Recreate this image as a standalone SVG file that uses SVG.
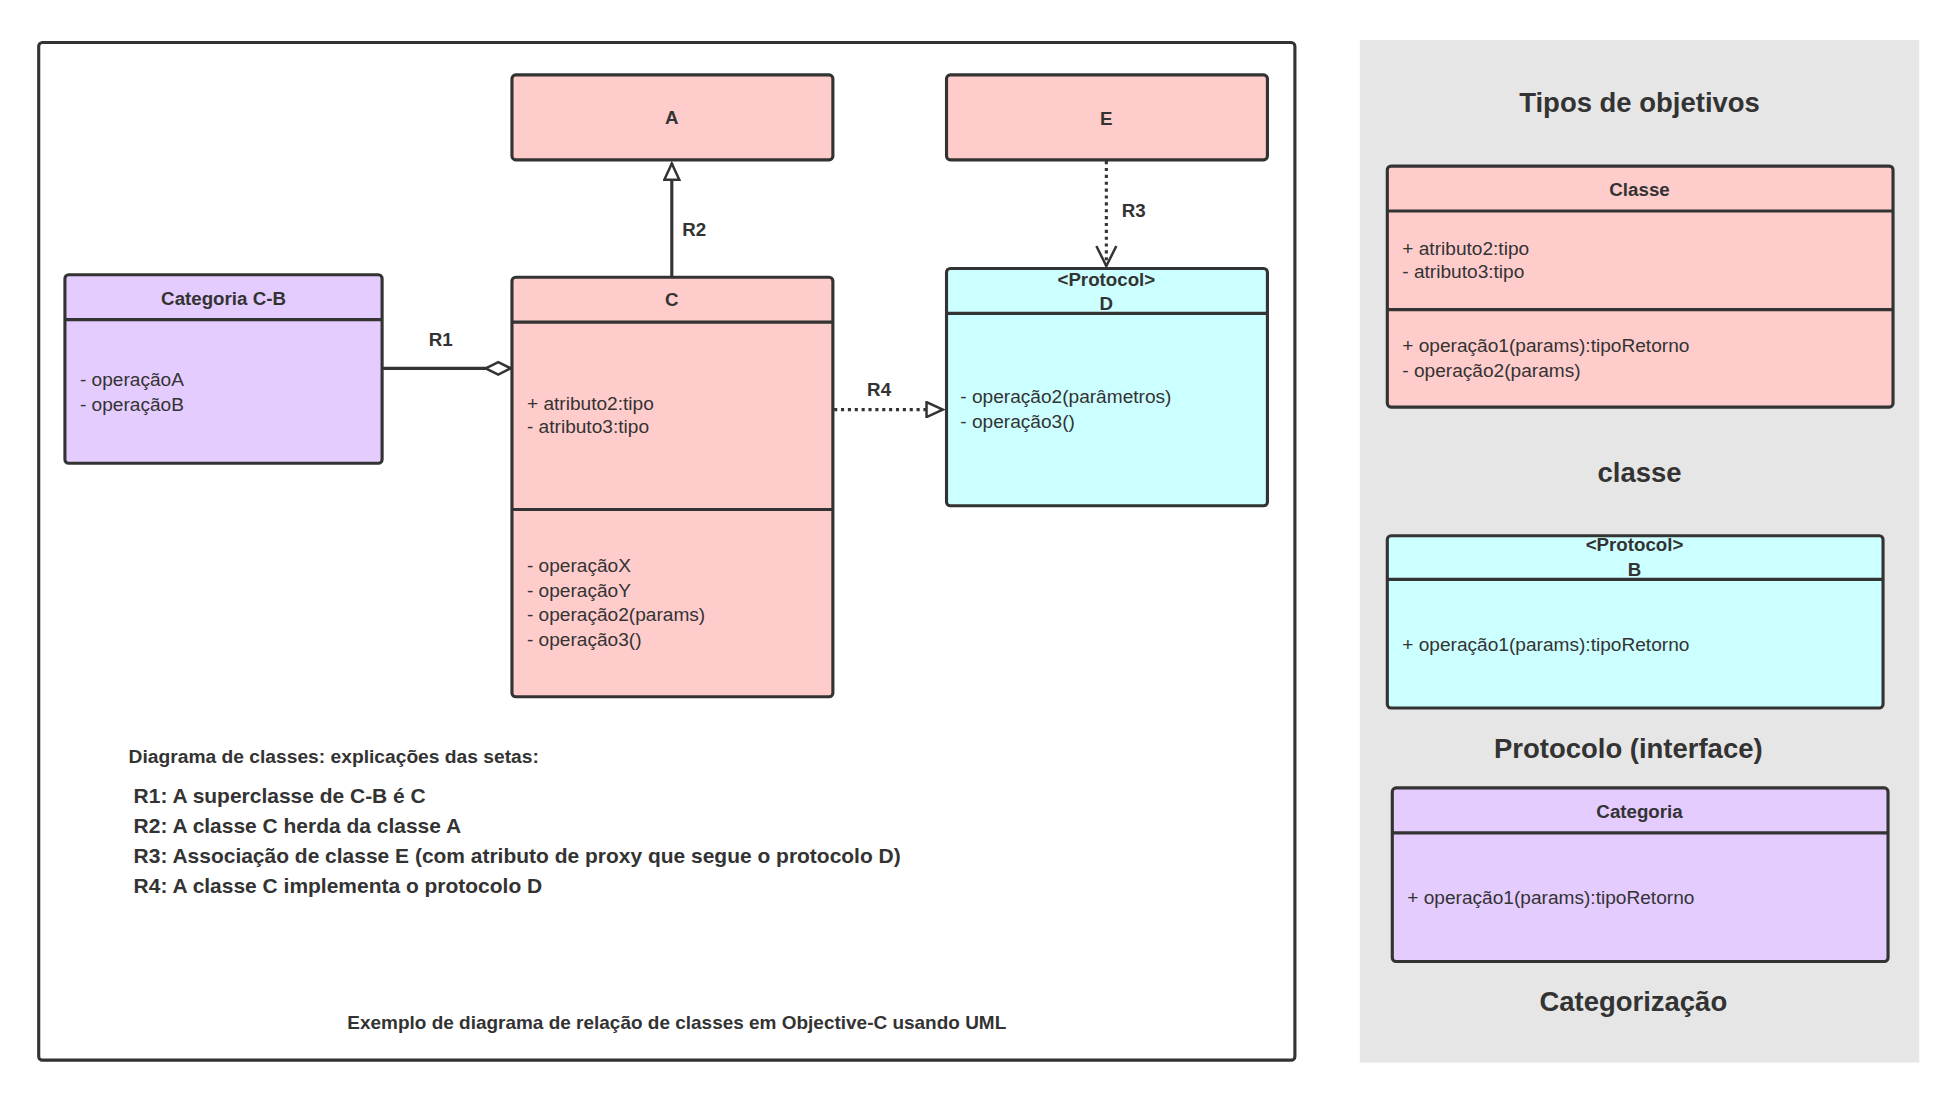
<svg xmlns="http://www.w3.org/2000/svg" width="1958" height="1110" viewBox="0 0 1958 1110">
<style>
text{font-family:"Liberation Sans",Arial,sans-serif;fill:#333}
.b{stroke:#333;stroke-width:2.5}
.pink{fill:#ffcccc}.lil{fill:#e5ccff}.cy{fill:#ccffff}
.t{font-weight:bold;font-size:15px;text-anchor:middle}
.m{font-size:15.3px}
.h{font-weight:bold;font-size:22px;text-anchor:middle}
.r{font-weight:bold;font-size:16.8px}
.ln{stroke:#333;stroke-width:2.5;fill:none}
.dot{stroke-dasharray:2.5 3}
</style>
<defs>
<marker id="tri" markerWidth="16" markerHeight="14" refX="14" refY="7" orient="auto" markerUnits="userSpaceOnUse"><path d="M1,1 L14,7 L1,13 Z" fill="#fff" stroke="#333" stroke-width="2"/></marker>
<marker id="dia" markerWidth="24" markerHeight="14" refX="22" refY="7" orient="auto" markerUnits="userSpaceOnUse"><path d="M2,7 L12,2 L22,7 L12,12 Z" fill="#fff" stroke="#333" stroke-width="2"/></marker>
<marker id="vee" markerWidth="24" markerHeight="20" refX="20" refY="10" orient="auto" markerUnits="userSpaceOnUse"><path d="M4,2 L20,10 L4,18" fill="none" stroke="#333" stroke-width="2"/></marker>
</defs>
<rect width="1958" height="1110" fill="#fff"/>
<g transform="scale(1.2487)">
<rect x="31" y="34" width="1006" height="815" rx="3" fill="#fff" class="b"/>
<rect x="1089" y="32" width="448" height="819" fill="#e6e6e6"/>
<g id="A"><rect x="410" y="60" width="257" height="68" rx="3" class="pink b"/><text x="538" y="99" class="t">A</text></g>
<g id="E"><rect x="758" y="60" width="257" height="68" rx="3" class="pink b"/><text x="886" y="100" class="t">E</text></g>
<g id="C"><rect x="410" y="222" width="257" height="336" rx="3" class="pink b"/>
<line x1="410" y1="258" x2="667" y2="258" class="b"/><line x1="410" y1="408" x2="667" y2="408" class="b"/>
<text x="538" y="245" class="t">C</text>
<text x="422" y="328" class="m">+ atributo2:tipo</text><text x="422" y="347" class="m">- atributo3:tipo</text>
<text x="422" y="458" class="m">- operaçãoX</text><text x="422" y="478" class="m">- operaçãoY</text><text x="422" y="497" class="m">- operação2(params)</text><text x="422" y="517" class="m">- operação3()</text></g>
<g id="CB"><rect x="52" y="220" width="254" height="151" rx="3" class="lil b"/>
<line x1="52" y1="256" x2="306" y2="256" class="b"/>
<text x="179" y="244" class="t">Categoria C-B</text>
<text x="64" y="309" class="m">- operaçãoA</text><text x="64" y="329" class="m">- operaçãoB</text></g>
<g id="D"><rect x="758" y="215" width="257" height="190" rx="3" class="cy b"/>
<line x1="758" y1="251" x2="1015" y2="251" class="b"/>
<text x="886" y="229" class="t">&lt;Protocol&gt;</text><text x="886" y="248" class="t">D</text>
<text x="769" y="323" class="m">- operação2(parâmetros)</text><text x="769" y="343" class="m">- operação3()</text></g>
<g id="connectors">
<line x1="538" y1="222" x2="538" y2="131" class="ln" marker-end="url(#tri)"/>
<line x1="306" y1="295" x2="409" y2="295" class="ln" marker-end="url(#dia)"/>
<line x1="886" y1="129" x2="886" y2="213" class="ln dot" marker-end="url(#vee)"/>
<line x1="668" y1="328" x2="755" y2="328" class="ln dot" marker-end="url(#tri)"/>
<text x="556" y="189" class="t">R2</text><text x="353" y="277" class="t">R1</text>
<text x="908" y="174" class="t">R3</text><text x="704" y="317" class="t">R4</text>
</g>
<g id="notes">
<text x="103" y="611" font-size="15.4" font-weight="bold">Diagrama de classes: explicações das setas:</text>
<text x="107" y="643" class="r">R1: A superclasse de C-B é C</text>
<text x="107" y="667" class="r">R2: A classe C herda da classe A</text>
<text x="107" y="691" class="r">R3: Associação de classe E (com atributo de proxy que segue o protocolo D)</text>
<text x="107" y="715" class="r">R4: A classe C implementa o protocolo D</text>
<text x="542" y="824" font-size="15.2" font-weight="bold" text-anchor="middle">Exemplo de diagrama de relação de classes em Objective-C usando UML</text>
</g>
<g id="legend">
<text x="1313" y="90" class="h">Tipos de objetivos</text>
<g id="Classe"><rect x="1111" y="133" width="405" height="193" rx="3" class="pink b"/>
<line x1="1111" y1="169" x2="1516" y2="169" class="b"/><line x1="1111" y1="248" x2="1516" y2="248" class="b"/>
<text x="1313" y="157" class="t">Classe</text>
<text x="1123" y="204" class="m">+ atributo2:tipo</text><text x="1123" y="223" class="m">- atributo3:tipo</text>
<text x="1123" y="282" class="m">+ operação1(params):tipoRetorno</text><text x="1123" y="302" class="m">- operação2(params)</text></g>
<text x="1313" y="386" class="h">classe</text>
<g id="B"><rect x="1111" y="429" width="397" height="138" rx="3" class="cy b"/>
<line x1="1111" y1="464" x2="1508" y2="464" class="b"/>
<text x="1309" y="441" class="t">&lt;Protocol&gt;</text><text x="1309" y="461" class="t">B</text>
<text x="1123" y="521" class="m">+ operação1(params):tipoRetorno</text></g>
<text x="1304" y="607" class="h">Protocolo (interface)</text>
<g id="Categoria"><rect x="1115" y="631" width="397" height="139" rx="3" class="lil b"/>
<line x1="1115" y1="667" x2="1512" y2="667" class="b"/>
<text x="1313" y="655" class="t">Categoria</text>
<text x="1127" y="724" class="m">+ operação1(params):tipoRetorno</text></g>
<text x="1308" y="810" class="h">Categorização</text>
</g>
</g>
</svg>
